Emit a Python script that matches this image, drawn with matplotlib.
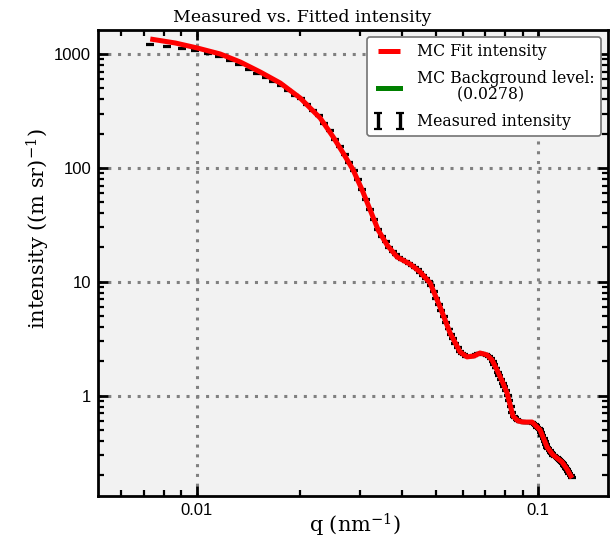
import matplotlib
matplotlib.use("Agg")
import matplotlib.pyplot as plt
from matplotlib.ticker import FixedLocator, FixedFormatter, LogLocator, NullFormatter

# ---------------- data ----------------
q_meas = [0.00730, 0.00816, 0.00902, 0.00988, 0.01074, 0.01160, 0.01246, 0.01332, 0.01418, 0.01504,
          0.01590, 0.01676, 0.01762, 0.01848, 0.01934, 0.02020, 0.02106, 0.02192, 0.02278, 0.02364,
          0.02450, 0.02536, 0.02622, 0.02708, 0.02794, 0.02880, 0.02966, 0.03052, 0.03138, 0.03224,
          0.03310, 0.03396, 0.03482, 0.03568, 0.03654, 0.03740, 0.03826, 0.03912, 0.03998, 0.04084,
          0.04170, 0.04256, 0.04342, 0.04428, 0.04514, 0.04600, 0.04686, 0.04772, 0.04858, 0.04944,
          0.05030, 0.05116, 0.05202, 0.05288, 0.05374, 0.05460, 0.05546, 0.05632, 0.05718, 0.05804,
          0.05890, 0.05976, 0.06062, 0.06148, 0.06234, 0.06320, 0.06406, 0.06492, 0.06578, 0.06664,
          0.06750, 0.06836, 0.06922, 0.07008, 0.07094, 0.07180, 0.07266, 0.07352, 0.07438, 0.07524,
          0.07610, 0.07696, 0.07782, 0.07868, 0.07954, 0.08040, 0.08126, 0.08212, 0.08298, 0.08384,
          0.08470, 0.08556, 0.08642, 0.08728, 0.08814, 0.08900, 0.08986, 0.09072, 0.09158, 0.09244,
          0.09330, 0.09416, 0.09502, 0.09588, 0.09674, 0.09760, 0.09846, 0.09932, 0.10018, 0.10104,
          0.10190, 0.10276, 0.10362, 0.10448, 0.10534, 0.10620, 0.10706, 0.10792, 0.10878, 0.10964,
          0.11050, 0.11136, 0.11222, 0.11308, 0.11394, 0.11480, 0.11566, 0.11652, 0.11738, 0.11824,
          0.11910, 0.11996, 0.12082, 0.12168, 0.12254, 0.12340, 0.12426, 0.12512]

i_meas = [1200, 1161, 1117, 1063, 1006, 947, 883, 805, 734, 673,
          622, 576, 529, 479, 436, 403, 359, 322, 286, 246,
          211, 179, 153, 131, 112, 95.2, 78.3, 64.6, 52.3, 42.7,
          34.9, 28.8, 25.2, 22.4, 20.2, 18.6, 17.2, 16.2, 15.7, 15.2,
          14.6, 14.0, 13.4, 12.7, 12.1, 11.4, 10.7, 10.06, 9.19, 8.14,
          7.13, 6.32, 5.60, 4.91, 4.35, 3.85, 3.44, 3.15, 2.90, 2.65,
          2.44, 2.35, 2.28, 2.21, 2.19, 2.21, 2.23, 2.25, 2.30, 2.35,
          2.37, 2.35, 2.32, 2.30, 2.25, 2.19, 2.10, 2.00, 1.86, 1.75,
          1.61, 1.50, 1.40, 1.29, 1.20, 1.11, 1.01, 0.90, 0.796, 0.712,
          0.657, 0.637, 0.618, 0.600, 0.596, 0.592, 0.589, 0.587, 0.587, 0.587,
          0.587, 0.587, 0.587, 0.587, 0.570, 0.556, 0.542, 0.528, 0.514, 0.502,
          0.473, 0.447, 0.419, 0.395, 0.372, 0.352, 0.341, 0.330, 0.320, 0.310,
          0.301, 0.296, 0.290, 0.286, 0.280, 0.275, 0.270, 0.266, 0.261, 0.253,
          0.246, 0.238, 0.231, 0.224, 0.215, 0.207, 0.200, 0.193]

rel_uncertainty = 0.01  # measurement uncertainty (too small to see)

q_fit = [0.00730, 0.00864, 0.01002, 0.01170, 0.01339, 0.01532, 0.01754, 0.02006, 0.02296, 0.02506,
         0.02681, 0.02868, 0.03047, 0.03217, 0.03395, 0.03607, 0.03858, 0.04211, 0.04506, 0.04819,
         0.05155, 0.05514, 0.05899, 0.06183, 0.06482, 0.06749, 0.07075, 0.07318, 0.07569, 0.07829,
         0.08096, 0.08434, 0.08723, 0.09021, 0.09585, 0.1012, 0.1061, 0.1104, 0.1173, 0.1213, 0.1255]
i_fit = [1354, 1249, 1129, 1000, 851, 695, 556, 411, 274, 187,
         135, 95.9, 64.0, 42.7, 28.5, 21.0, 16.5, 14.3, 12.2, 9.76,
         6.01, 3.55, 2.42, 2.19, 2.23, 2.37, 2.28, 2.06, 1.68, 1.35,
         1.06, 0.66, 0.600, 0.587, 0.587, 0.500, 0.354, 0.302, 0.262, 0.227, 0.189]

background_level = 0.0278

x_ticks = [0.01, 0.1]
x_ticklabels = ["0.01", "0.1"]
y_ticks = [1, 10, 100, 1000]
y_ticklabels = ["1", "10", "100", "1000"]

title = "Measured vs. Fitted intensity"
xlabel = "q (nm$^{-1}$)"
ylabel = "intensity ((m sr)$^{-1}$)"

# ---------------- figure ----------------
plt.rcParams["mathtext.fontset"] = "dejavuserif"
W, H = 613, 547
fig = plt.figure(figsize=(W / 100, H / 100), dpi=100)
ax = fig.add_axes([98 / W, 1 - 496 / H, (608 - 98) / W, (496 - 30) / H])
ax.set_facecolor("#f2f2f2")

ax.set_xscale("log")
ax.set_yscale("log")
ax.set_xlim(0.005131, 0.160)
ax.set_ylim(0.1316, 1624)

yerr = [v * rel_uncertainty for v in i_meas]
eb = ax.errorbar(q_meas, i_meas, yerr=yerr, fmt="none", ecolor="black",
                 elinewidth=2.4, capsize=3.1, capthick=1.6, zorder=3,
                 label="Measured intensity")
fit_line, = ax.plot(q_fit, i_fit, color="red", lw=3.6, zorder=4,
                    label="MC Fit intensity", solid_capstyle="butt")
bg_line = ax.axhline(background_level, color="green", lw=3.6, zorder=4,
                     label="MC Background level:\n        (0.0278)")

ax.xaxis.set_major_locator(FixedLocator(x_ticks))
ax.xaxis.set_major_formatter(FixedFormatter(x_ticklabels))
ax.yaxis.set_major_locator(FixedLocator(y_ticks))
ax.yaxis.set_major_formatter(FixedFormatter(y_ticklabels))
ax.xaxis.set_minor_locator(LogLocator(base=10, subs=range(2, 10), numticks=20))
ax.yaxis.set_minor_locator(LogLocator(base=10, subs=range(2, 10), numticks=20))
ax.xaxis.set_minor_formatter(NullFormatter())
ax.yaxis.set_minor_formatter(NullFormatter())

ax.tick_params(which="both", direction="in", top=True, right=True, color="black")
ax.tick_params(which="major", length=7, width=2.0, labelsize=12, pad=5)
ax.tick_params(which="minor", length=4, width=1.6)
for lab in ax.get_xticklabels() + ax.get_yticklabels():
    lab.set_family("Liberation Sans")

for s in ax.spines.values():
    s.set_linewidth(2.0)
    s.set_color("black")

ax.grid(True, which="major", color="0.5", linestyle=(0, (1, 2.2)), lw=2.2, zorder=1)
ax.set_axisbelow(True)

leg = ax.legend(handles=[fit_line, bg_line, eb], loc="upper right",
                numpoints=2, prop={"family": "DejaVu Serif", "size": 11.3},
                fancybox=True, framealpha=1.0, edgecolor="0.45",
                borderaxespad=0.45, handlelength=2.0, labelspacing=0.6,
                borderpad=0.4)
leg.get_frame().set_linewidth(1.2)
for t in leg.get_texts():
    t.set_linespacing(1.0)

fig.text(302 / W, 1 - 17 / H, title, ha="center", va="center",
         family="DejaVu Serif", fontsize=12.5)
fig.text(355 / W, 1 - 525 / H, xlabel, ha="center", va="center",
         family="DejaVu Serif", fontsize=15)
fig.text(38 / W, 1 - 229 / H, ylabel, ha="center", va="center", rotation=90,
         family="DejaVu Serif", fontsize=15)

fig.savefig("out.png", dpi=100)
